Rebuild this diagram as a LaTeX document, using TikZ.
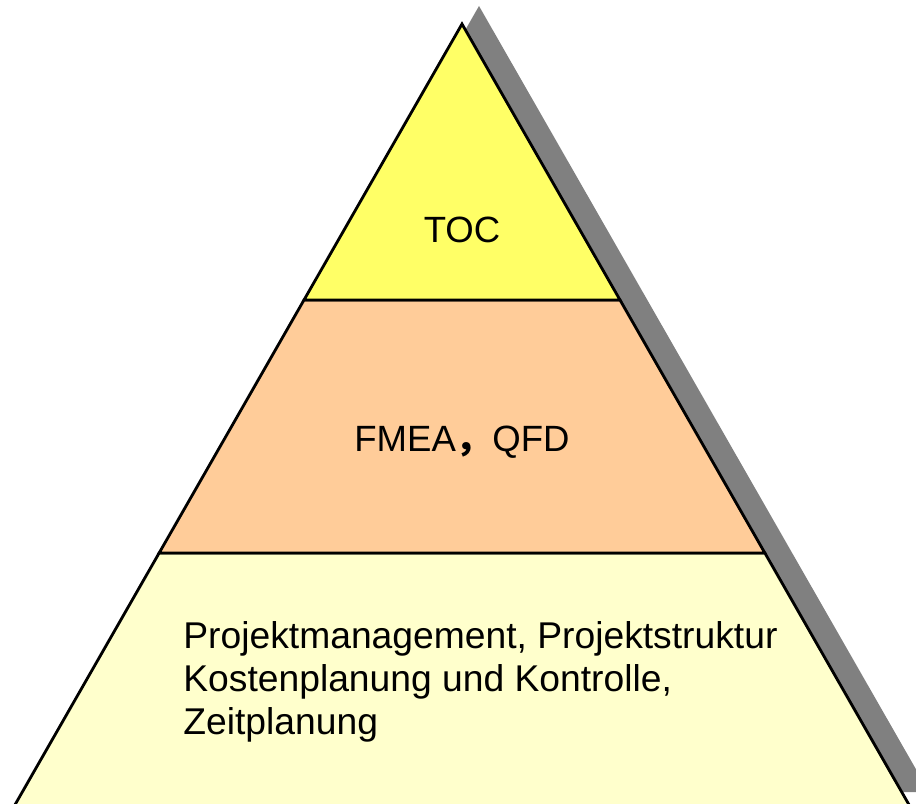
\documentclass[tikz,border=0pt]{standalone}
\usepackage{fontspec}
\setmainfont{Liberation Sans}
\newfontfamily\cjk{Noto Sans CJK SC}
\usepackage{tikz}
\usetikzlibrary{calc, positioning}

\definecolor{tocgelb}{HTML}{FFFF66}
\definecolor{fmeaorange}{HTML}{FFCC99}
\definecolor{basisgelb}{HTML}{FFFFCC}
\definecolor{schatten}{HTML}{808080}

\tikzset{
    schicht/.style={draw=black, line width=1.6pt, line join=miter},
    beschriftung/.style={inner sep=0pt, font=\fontsize{20.8}{24.2}\selectfont},
}

\begin{document}
\begin{tikzpicture}[x=0.02cm, y=-0.02cm]
    \useasboundingbox (0, 0) rectangle (916, 804);

    \coordinate (spitze) at (462, 24);
    \coordinate (links) at (12, 810);
    \coordinate (rechts) at (912, 810);

    % Stufengrenzen
    \coordinate (l1) at ($(spitze)!0.3511!(links)$);
    \coordinate (r1) at ($(spitze)!0.3511!(rechts)$);
    \coordinate (l2) at ($(spitze)!0.6730!(links)$);
    \coordinate (r2) at ($(spitze)!0.6730!(rechts)$);

    % Schatten, nach rechts oben versetzt
    \fill[schatten] ($(spitze)+(17,-18)$) -- ($(rechts)+(17,-18)$)
        -- ($(links)+(17,-18)$) -- cycle;

    % Stufen der Pyramide
    \draw[schicht, fill=basisgelb] (l2) -- (r2) -- (rechts) -- (links) -- cycle;
    \draw[schicht, fill=fmeaorange] (l1) -- (r1) -- (r2) -- (l2) -- cycle;
    \draw[schicht, fill=tocgelb] (spitze) -- (r1) -- (l1) -- cycle;

    \node[beschriftung, anchor=base] (toc) at (462, 243) {TOC};
    \node[beschriftung, anchor=base] (fmea) at (462, 451) {FMEA{\cjk\bfseries ，}QFD};
    \node[beschriftung, anchor=base west, align=left, font=\fontsize{21.2}{24.2}\selectfont]
        (basis) at (183, 734)
        {Projektmanagement, Projektstruktur\\Kostenplanung und Kontrolle,\\Zeitplanung};
\end{tikzpicture}
\end{document}
